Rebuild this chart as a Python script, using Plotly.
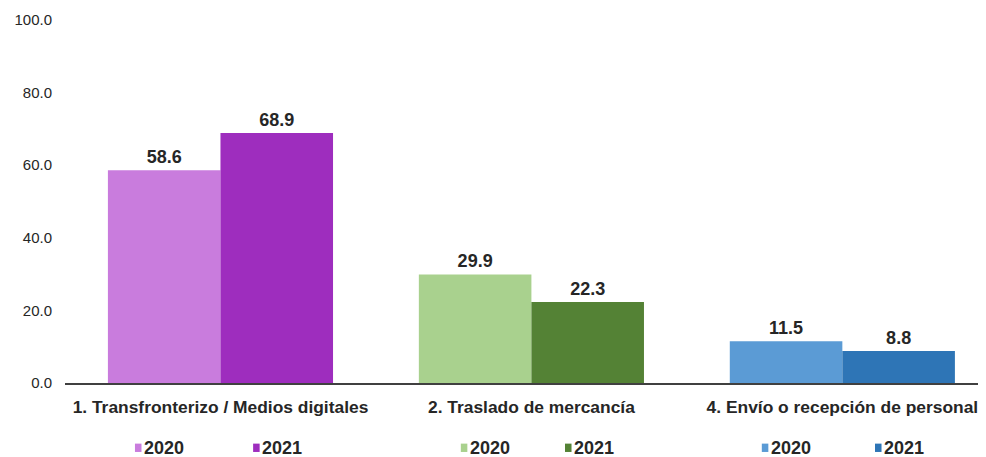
import plotly.graph_objects as go

categories = ["1. Transfronterizo / Medios digitales", "2. Traslado de mercancía", "4. Envío o recepción de personal"]
years = ["2020", "2021"]
values_2020 = [58.6, 29.9, 11.5]
values_2021 = [68.9, 22.3, 8.8]
colors_2020 = ["#C97CDD", "#A9D18E", "#5B9BD5"]
colors_2021 = ["#9E2DBE", "#548235", "#2E75B6"]
y_ticks = [0, 20, 40, 60, 80, 100]

FONT = "Liberation Sans, Arial, sans-serif"
xidx = list(range(len(categories)))

fig = go.Figure()
for vals, cols, name in [(values_2020, colors_2020, years[0]), (values_2021, colors_2021, years[1])]:
    fig.add_trace(go.Bar(
        x=xidx, y=vals, name=name, marker=dict(color=cols, line=dict(width=0)),
        text=[f"<b>{v:.1f}</b>" for v in vals], textposition="outside", cliponaxis=False,
        textfont=dict(family=FONT, size=18, color="#262626"),
        showlegend=False,
    ))

# per-group legends below the category labels
legend_offsets = [(-0.275, 0.105), (-0.227, 0.108), (-0.259, 0.105)]
sq_w = 0.021
annotations = []
shapes = []
for i, (o1, o2) in enumerate(legend_offsets):
    for off, col, yr in [(o1, colors_2020[i], years[0]), (o2, colors_2021[i], years[1])]:
        shapes.append(dict(
            type="rect", xref="x", yref="paper",
            x0=i + off, x1=i + off + sq_w, y0=-0.19, y1=-0.167,
            fillcolor=col, line=dict(width=0),
        ))
        annotations.append(dict(
            x=i + off + sq_w + 0.002, xref="x", xanchor="left", y=-0.179, yref="paper", yanchor="middle",
            showarrow=False, text=f"<b>{yr}</b>",
            font=dict(family=FONT, size=18, color="#262626"),
        ))

fig.update_layout(
    width=978, height=449,
    margin=dict(l=57, r=0, t=12, b=74),
    plot_bgcolor="white", paper_bgcolor="white",
    barmode="group", bargap=0.276, bargroupgap=0,
    annotations=annotations, shapes=shapes,
    font=dict(family=FONT, color="#262626"),
)
fig.update_xaxes(
    tickmode="array", tickvals=xidx,
    ticktext=[f"<b>{c}</b>" for c in categories],
    range=[-0.5, 2.462],
    showline=True, linecolor="#404040", linewidth=1.5,
    showgrid=False, zeroline=False, ticks="",
    tickfont=dict(size=17.4, color="#262626"), ticklabelstandoff=7,
)
fig.update_yaxes(
    range=[0, 100], tickvals=y_ticks, tickformat=".1f",
    showgrid=False, zeroline=False, showline=False,
    tickfont=dict(size=15, color="#262626"), ticklabelstandoff=12,
)
fig.write_html("out.html")
